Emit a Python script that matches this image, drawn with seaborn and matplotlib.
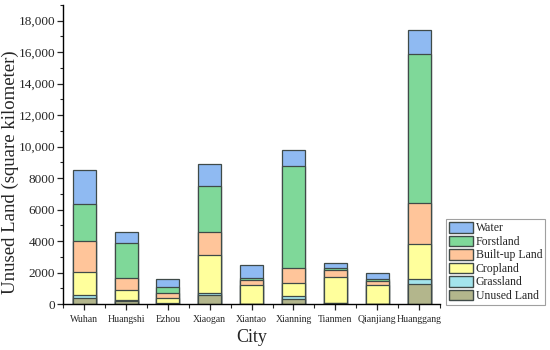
import numpy as np
import pandas as pd
import matplotlib
matplotlib.use("Agg")
import matplotlib.pyplot as plt
from matplotlib.patches import Patch
from matplotlib.ticker import MultipleLocator, FuncFormatter
import seaborn as sns

cities = ["Wuhan", "Huangshi", "Ezhou", "Xiaogan", "Xiantao",
          "Xianning", "Tianmen", "Qianjiang", "Huanggang"]

# land area per class (square kilometer), stacked bottom -> top
unused = [380, 210, 35, 570, 25, 296, 50, 15, 1268]
grassland = [170, 63, 50, 148, 15, 211, 34, 10, 359]
cropland = [1500, 595, 296, 2431, 1164, 845, 1649, 1179, 2221]
builtup = [1965, 800, 296, 1458, 359, 973, 442, 296, 2574]
forstland = [2330, 2199, 402, 2916, 127, 6445, 125, 123, 9491]
water = [2200, 698, 507, 1353, 825, 990, 300, 359, 1503]

layers = ["Unused Land", "Grassland", "Cropland", "Built-up Land", "Forstland", "Water"]
values = [unused, grassland, cropland, builtup, forstland, water]
colors = ["#b3b68c", "#a3e4ec", "#ffff9c", "#ffc59a", "#7fd899", "#8fbaf2"]

df = pd.DataFrame(dict(zip(layers, values)), index=cities)
cum = df.cumsum(axis=1)

sns.set_style("ticks")
plt.rcParams["font.family"] = ["Liberation Serif", "DejaVu Serif"]

fig = plt.figure(figsize=(5.5, 3.5), dpi=100)
ax = fig.add_axes([0.115, 0.131, 0.685, 0.855])

# draw cumulative totals from the top layer down so each overlays the previous
for layer, col in zip(reversed(layers), reversed(colors)):
    sns.barplot(x=cities, y=cum[layer].values, color=col, width=0.55,
                edgecolor="#3f4a48", linewidth=0.9, saturation=1, ax=ax)

ax.set_xlim(-0.5, 8.5)
ax.set_ylim(0, 19000)
ax.yaxis.set_major_locator(MultipleLocator(2000))
ax.yaxis.set_minor_locator(MultipleLocator(1000))
ax.yaxis.set_major_formatter(FuncFormatter(
    lambda v, p: f"{int(v):,}" if v >= 10000 else f"{int(v)}"))
ax.set_xticks(range(len(cities)))
ax.set_xticks(np.arange(-0.5, 9, 1), minor=True)
ax.set_xticklabels(cities, fontsize=7)
ax.tick_params(axis="y", labelsize=9.5, direction="out", length=4, width=0.9, pad=2)
ax.tick_params(axis="y", which="minor", length=2.5, width=0.8)
ax.tick_params(axis="x", direction="out", length=4, width=0.9)
ax.tick_params(axis="x", which="minor", length=3, width=0.8)

ax.set_xlabel("City", fontsize=13)
ax.set_ylabel("Unused Land (square kilometer)", fontsize=13.5)
ax.yaxis.set_label_coords(-0.118, 0.44)
sns.despine(ax=ax)
for s in ["left", "bottom"]:
    ax.spines[s].set_linewidth(1.0)
    ax.spines[s].set_color("black")

handles = [Patch(facecolor=c, edgecolor="#3f4a48", label=l)
           for l, c in zip(reversed(layers), reversed(colors))]
leg = fig.legend(handles=handles, loc="lower right", bbox_to_anchor=(0.991, 0.129),
                 fontsize=8.5, frameon=True, fancybox=False, edgecolor="#888888",
                 handlelength=2.0, handleheight=1.0, labelspacing=0.1,
                 borderpad=0.25, handletextpad=0.25, borderaxespad=0)
leg.get_frame().set_linewidth(0.8)

fig.savefig("out.png", dpi=100)
